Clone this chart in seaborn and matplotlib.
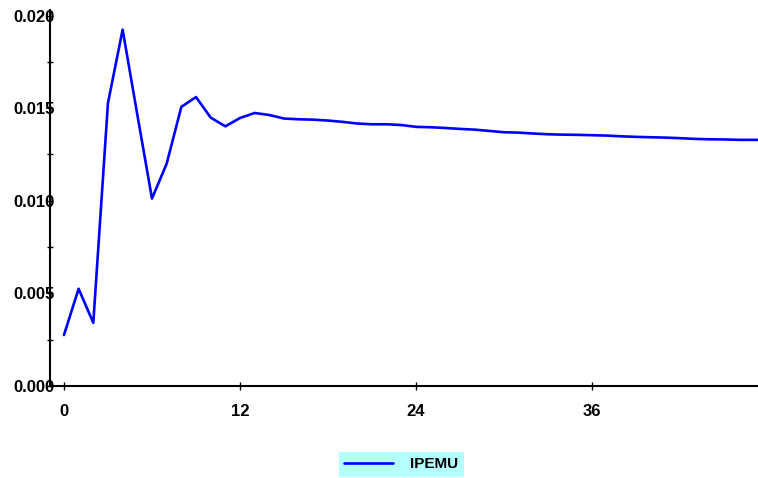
import pandas as pd
import numpy as np
import matplotlib
matplotlib.use("Agg")
import matplotlib.pyplot as plt
import seaborn as sns
from matplotlib.ticker import MultipleLocator

# valores (resposta ao impulso, 49 periodos)
periodos = list(range(49))
ipemu = [0.00275, 0.00525, 0.00341, 0.01528, 0.01924, 0.01465, 0.01012, 0.01200,
         0.01507, 0.01560, 0.01449, 0.01402, 0.01447, 0.01474, 0.01463, 0.01444,
         0.01440, 0.01438, 0.01433, 0.01426, 0.01417, 0.01413, 0.01413, 0.01409,
         0.01399, 0.01397, 0.01393, 0.01388, 0.01384, 0.01377, 0.01370, 0.01368,
         0.01363, 0.01359, 0.01357, 0.01356, 0.01354, 0.01352, 0.01348, 0.01345,
         0.01343, 0.01341, 0.01338, 0.01334, 0.01332, 0.01331, 0.01329, 0.01329,
         0.01328]
xticks = [0, 12, 24, 36]

df = pd.DataFrame({"periodo": periodos, "IPEMU": ipemu})

sns.set_style("white")
plt.rcParams["font.family"] = ["Liberation Sans", "DejaVu Sans"]
plt.rcParams["font.weight"] = "bold"
plt.rcParams["text.color"] = "black"
plt.rcParams["xtick.color"] = "black"
plt.rcParams["ytick.color"] = "black"

fig = plt.figure(figsize=(7.58, 4.78), dpi=100)
ax = fig.add_axes([50 / 758, 92 / 478, 708 / 758, 376 / 478])

sns.lineplot(data=df, x="periodo", y="IPEMU", color="#0000ff", linewidth=1.9, ax=ax, label="IPEMU", legend=False)

ax.set_xlim(-0.95, 47.3)
ax.set_ylim(0, 0.0203)
ax.set_xticks(xticks)
ax.yaxis.set_major_locator(MultipleLocator(0.005))
ax.yaxis.set_minor_locator(MultipleLocator(0.0025))
ax.set_yticklabels([f"{v:.3f}" for v in ax.get_yticks()])
ax.tick_params(axis="y", which="both", direction="inout", length=5, width=1, pad=-6, labelsize=12)
ax.tick_params(axis="x", which="both", direction="inout", length=6, width=1, pad=10, labelsize=12)
ax.tick_params(axis="y", which="both", left=True)
ax.tick_params(axis="x", bottom=True)
for lab in ax.get_xticklabels() + ax.get_yticklabels():
    lab.set_fontweight("bold")
ax.set_xlabel("")
ax.set_ylabel("")
for s in ["top", "right"]:
    ax.spines[s].set_visible(False)
for s in ["left", "bottom"]:
    ax.spines[s].set_color("black")
    ax.spines[s].set_linewidth(1.5)

handles, labels = ax.get_legend_handles_labels()
leg = fig.legend(handles, labels, loc="upper left", bbox_to_anchor=(339 / 758, 1 - 452 / 478),
                 frameon=True, facecolor="#b4ffff", edgecolor="none", fancybox=False, framealpha=1,
                 handlelength=3.2, handletextpad=1.1, borderpad=0.35, borderaxespad=0,
                 prop={"size": 11, "weight": "bold"})

fig.savefig("out.png", dpi=100)
